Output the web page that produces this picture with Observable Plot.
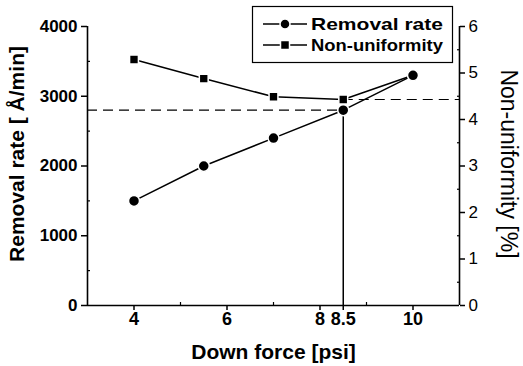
<!DOCTYPE html>
<html>
<head>
<meta charset="utf-8">
<script src="https://cdn.jsdelivr.net/npm/d3@7"></script>
<script src="https://cdn.jsdelivr.net/npm/@observablehq/plot@0.6"></script>
<style>
  html, body { margin: 0; padding: 0; background: #fff; }
  #wrap { position: relative; width: 523px; height: 366px; font-family: "Liberation Sans", Arial, sans-serif; }
  #legend { position: absolute; left: 0; top: 0; pointer-events: none; }
</style>
</head>
<body>
<div id="wrap"></div>
<script>
// ---- data ----
const downForce = [4, 5.5, 7, 8.5, 10];
const removalRate = [1500, 2000, 2400, 2800, 3300];
const nonUniformity = [5.29, 4.88, 4.49, 4.43, 4.95];
const xTicks = [4, 6, 8, 8.5, 10];
const xMinorTicks = [5, 7, 9];
const leftTicks = [0, 1000, 2000, 3000, 4000];
const leftMinorTicks = [500, 1500, 2500, 3500];
const rightTicks = [0, 1, 2, 3, 4, 5, 6];
const rightMinorTicks = [0.5, 1.5, 2.5, 3.5, 4.5, 5.5];
const xDomain = [3, 11];
const leftDomain = [0, 4000];
const rightDomain = [0, 6];
const opForce = 8.5;
const opRate = 2800;
const opNonUniformity = 4.43;
const seriesNames = ["Removal rate", "Non-uniformity"];

// right-axis values mapped into left-axis units
const k = leftDomain[1] / rightDomain[1];
const rows = downForce.map((x, i) => ({x, rate: removalRate[i], nu: nonUniformity[i] * k}));

const font = "'Liberation Sans', Arial, sans-serif";

const chart = Plot.plot({
  width: 523,
  height: 366,
  marginLeft: 87,
  marginRight: 64,
  marginTop: 26,
  marginBottom: 61,
  style: {fontFamily: font, color: "#000", background: "#fff", overflow: "visible"},
  x: {domain: xDomain},
  y: {domain: leftDomain},
  marks: [
    // axis lines
    Plot.ruleY([leftDomain[0]], {stroke: "#000", strokeWidth: 1.6}),
    Plot.ruleX([xDomain[0]], {stroke: "#000", strokeWidth: 1.6}),
    Plot.ruleX([xDomain[1]], {stroke: "#000", strokeWidth: 1.6}),
    // left axis
    Plot.axisY(leftTicks, {anchor: "left", tickSize: 6, tickPadding: 4, fontSize: 17, fontWeight: "bold", label: null, strokeWidth: 1.5, tickFormat: d => String(d)}),
    Plot.axisY(leftMinorTicks, {anchor: "left", tickSize: -3, tickFormat: () => "", label: null, strokeWidth: 1.2}),
    // right axis
    Plot.axisY(rightTicks.map(v => v * k), {anchor: "right", tickSize: 5, tickPadding: 4, fontSize: 17, tickFormat: d => String(Math.round(d / k)), label: null, strokeWidth: 1.5}),
    Plot.axisY(rightMinorTicks.map(v => v * k), {anchor: "right", tickSize: -3, tickFormat: () => "", label: null, strokeWidth: 1.2}),
    // bottom axis
    Plot.axisX(xTicks, {anchor: "bottom", tickSize: 5, tickPadding: 2, fontSize: 18, fontWeight: "bold", label: null, strokeWidth: 1.5, tickFormat: d => String(d)}),
    Plot.axisX(xMinorTicks, {anchor: "bottom", tickSize: -3, tickFormat: () => "", label: null, strokeWidth: 1.2}),
    // titles
    Plot.text(["Removal rate [ Å/min]"], {frameAnchor: "left", textAnchor: "middle", lineAnchor: "middle", dx: -70, dy: -12, rotate: -90, fontSize: 21, fontWeight: "bold", letterSpacing: "1.5px"}),
    Plot.text(["Non-uniformity [%]"], {frameAnchor: "right", textAnchor: "middle", lineAnchor: "middle", dx: 49, dy: -2, rotate: 90, fontSize: 23, letterSpacing: "0.8px"}),
    Plot.text(["Down force [psi]"], {frameAnchor: "bottom", textAnchor: "middle", lineAnchor: "middle", dy: 47, fontSize: 21, fontWeight: "bold", letterSpacing: "1.5px"}),
    // operating point guides
    Plot.ruleY([opRate], {x1: xDomain[0], x2: opForce, stroke: "#000", strokeWidth: 1.2, strokeDasharray: "10,6"}),
    Plot.ruleY([opNonUniformity * k], {x1: opForce, x2: xDomain[1], stroke: "#000", strokeWidth: 1.2, strokeDasharray: "10,6"}),
    Plot.ruleX([opForce], {y1: leftDomain[0], y2: opRate, stroke: "#000", strokeWidth: 1.5}),
    // non-uniformity series
    Plot.line(rows, {x: "x", y: "nu", stroke: "#000", strokeWidth: 1.5}),
    Plot.dot(rows, {x: "x", y: "nu", symbol: "square", r: 5, fill: "#000", stroke: "#fff", strokeWidth: 1.5}),
    // removal rate series
    Plot.line(rows, {x: "x", y: "rate", stroke: "#000", strokeWidth: 1.5}),
    Plot.dot(rows, {x: "x", y: "rate", r: 5.5, fill: "#000", stroke: "#fff", strokeWidth: 1.5})
  ]
});

const wrap = document.getElementById("wrap");
wrap.appendChild(chart);

// legend overlay (inside the plot area, as in the reference)
const leg = d3.select(wrap).append("svg")
  .attr("id", "legend")
  .attr("width", 523).attr("height", 366);
const g = leg.append("g");
g.append("rect").attr("x", 252.5).attr("y", 6.5).attr("width", 200).attr("height", 56)
  .attr("fill", "#fff").attr("stroke", "#000").attr("stroke-width", 1.2);
const rowsY = [24, 45];
seriesNames.forEach((name, i) => {
  const y = rowsY[i];
  g.append("line").attr("x1", 263).attr("x2", 307).attr("y1", y).attr("y2", y)
    .attr("stroke", "#000").attr("stroke-width", 1.5);
  if (i === 0) {
    g.append("circle").attr("cx", 285).attr("cy", y).attr("r", 5)
      .attr("fill", "#000").attr("stroke", "#fff").attr("stroke-width", 1.5);
  } else {
    g.append("rect").attr("x", 280.5).attr("y", y - 4.5).attr("width", 9).attr("height", 9)
      .attr("fill", "#000").attr("stroke", "#fff").attr("stroke-width", 1.5);
  }
  g.append("text").attr("x", 311).attr("y", y).attr("dy", "0.35em")
    .attr("font-family", font).attr("font-size", 17).attr("font-weight", "bold")
    .attr("textLength", 132).attr("lengthAdjust", "spacingAndGlyphs")
    .text(name);
});
</script>
</body>
</html>
